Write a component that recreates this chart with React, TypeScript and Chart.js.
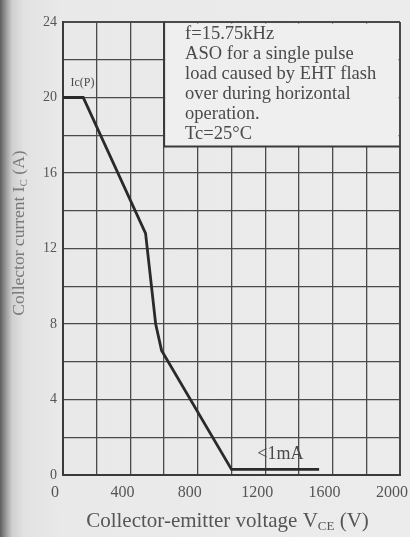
import React, { useEffect, useRef } from "react";
import { Chart, registerables } from "chart.js";

Chart.register(...registerables);

const voltage = [0, 120, 490, 550, 585, 1000, 1520];
const current = [20, 20, 12.8, 8, 6.6, 0.3, 0.3];

const xTickLabels = ["0", "400", "800", "1200", "1600", "2000"];
const yTickLabels = ["0", "4", "8", "12", "16", "20", "24"];

const noteLines = [
  "f=15.75kHz",
  "ASO for a single pulse",
  "load caused by EHT flash",
  "over during horizontal",
  "operation.",
  "Tc=25°C",
];

const noteBox = { v0: 600, v1: 2000, a0: 17.4, a1: 24 };
const icpLabel = { v: 15, a: 20.6, text: "Ic(P)" };
const leakLabel = { v: 1290, a: 1.1, text: "<1mA" };

const SERIF = "'Liberation Serif', 'DejaVu Serif', serif";
const INK = "#3a3a3a";
const PAPER = "#efefef";

function measureParts(ctx: any, parts: [string, boolean][], size: number) {
  let w = 0;
  parts.forEach(([t, sub]) => {
    ctx.font = `${sub ? Math.round(size * 0.6) : size}px ${SERIF}`;
    w += ctx.measureText(t).width;
  });
  return w;
}

export default function App() {
  const ref = useRef<HTMLCanvasElement | null>(null);

  useEffect(() => {
    if (!ref.current) return;

    const notePlugin = {
      id: "notes",
      beforeDatasetsDraw(chart: any) {
        const { ctx, scales } = chart;
        const x = scales.x;
        const y = scales.y;
        const bx0 = x.getPixelForValue(noteBox.v0);
        const bx1 = x.getPixelForValue(noteBox.v1);
        const by0 = y.getPixelForValue(noteBox.a1);
        const by1 = y.getPixelForValue(noteBox.a0);
        ctx.save();
        ctx.fillStyle = PAPER;
        ctx.fillRect(bx0 + 1, by0 + 1.5, bx1 - bx0 - 2.5, by1 - by0 - 1.5);
        ctx.strokeStyle = INK;
        ctx.lineWidth = 2;
        ctx.beginPath();
        ctx.moveTo(bx0, by0);
        ctx.lineTo(bx0, by1);
        ctx.lineTo(bx1, by1);
        ctx.stroke();
        ctx.fillStyle = "#4a4a4a";
        ctx.font = `18.5px ${SERIF}`;
        ctx.textBaseline = "middle";
        ctx.textAlign = "left";
        const tx = bx0 + 21;
        noteLines.forEach((line, i) => {
          ctx.fillText(line, tx, by0 + 12 + i * 20);
        });
        ctx.font = `12px ${SERIF}`;
        ctx.fillText(icpLabel.text, x.getPixelForValue(icpLabel.v) + 5, y.getPixelForValue(icpLabel.a) - 3);
        ctx.font = `18px ${SERIF}`;
        ctx.textAlign = "center";
        ctx.fillText(leakLabel.text, x.getPixelForValue(leakLabel.v), y.getPixelForValue(leakLabel.a));
        ctx.restore();
      },
      afterDraw(chart: any) {
        const { ctx, chartArea } = chart;
        ctx.save();
        ctx.textBaseline = "alphabetic";
        ctx.textAlign = "left";
        const xParts: [string, boolean][] = [
          ["Collector-emitter voltage V", false],
          ["CE", true],
          [" (V)", false],
        ];
        const xs = 21;
        const xw = measureParts(ctx, xParts, xs);
        let cx = (chartArea.left + chartArea.right) / 2 - xw / 2 - 4;
        const cy = 527;
        ctx.fillStyle = "#555";
        xParts.forEach(([t, sub]) => {
          ctx.font = `${sub ? Math.round(xs * 0.6) : xs}px ${SERIF}`;
          ctx.fillText(t, cx, sub ? cy + 3 : cy);
          cx += ctx.measureText(t).width;
        });
        const yParts: [string, boolean][] = [
          ["Collector current I", false],
          ["C", true],
          [" (A)", false],
        ];
        const ys = 17.5;
        const yw = measureParts(ctx, yParts, ys);
        ctx.translate(24, 233);
        ctx.rotate(-Math.PI / 2);
        ctx.fillStyle = "#7a7a7a";
        let px = -yw / 2;
        yParts.forEach(([t, sub]) => {
          ctx.font = `${sub ? Math.round(ys * 0.6) : ys}px ${SERIF}`;
          ctx.fillText(t, px, sub ? 3 : 0);
          px += ctx.measureText(t).width;
        });
        ctx.restore();
      },
    };

    const chart = new Chart(ref.current, {
      type: "line",
      data: {
        datasets: [
          {
            data: voltage.map((v, i) => ({ x: v, y: current[i] })),
            borderColor: "#2a2a2a",
            borderWidth: 2.8,
            pointRadius: 0,
            fill: false,
            tension: 0,
          },
        ],
      },
      options: {
        animation: false,
        responsive: false,
        devicePixelRatio: 1,
        layout: { padding: { top: 22, right: 10, left: 0, bottom: 0 } },
        plugins: { legend: { display: false }, tooltip: { enabled: false } },
        scales: {
          x: {
            type: "linear",
            min: 0,
            max: 2000,
            afterFit(s: any) {
              s.height = 62;
              s.paddingLeft = 0;
              s.paddingRight = 0;
            },
            grid: {
              color: "#4a4a4a",
              lineWidth: (c: any) => (c.tick && (c.tick.value === 2000 || c.tick.value === 0) ? 2 : 1.3),
              drawTicks: false,
            },
            border: { color: "#3a3a3a", width: 2 },
            ticks: {
              stepSize: 200,
              autoSkip: false,
              maxRotation: 0,
              padding: 8,
              labelOffset: -8,
              color: "#555",
              font: { family: SERIF, size: 16 },
              callback: (v: any) => {
                const s = String(v);
                return xTickLabels.includes(s) ? s : "";
              },
            },
          },
          y: {
            type: "linear",
            min: 0,
            max: 24,
            afterFit(s: any) {
              s.width = 63;
              s.paddingTop = 0;
              s.paddingBottom = 0;
            },
            grid: {
              color: "#4a4a4a",
              lineWidth: (c: any) => (c.tick && (c.tick.value === 24 || c.tick.value === 0) ? 2 : 1.3),
              drawTicks: false,
            },
            border: { color: "#3a3a3a", width: 2 },
            ticks: {
              stepSize: 2,
              autoSkip: false,
              padding: 6,
              color: "#555",
              font: { family: SERIF, size: 14 },
              callback: (v: any) => {
                const s = String(v);
                return yTickLabels.includes(s) ? s : "";
              },
            },
          },
        },
      },
      plugins: [notePlugin],
    });

    return () => chart.destroy();
  }, []);

  return (
    <div
      style={{
        position: "fixed",
        left: 0,
        top: 0,
        width: 410,
        height: 537,
        background:
          "linear-gradient(to right, #5e5e5e 0px, #9a9a9a 6px, #cfcfcf 12px, #e2e2e2 24px, #e9e9e9 60px, #ececec 100%)",
      }}
    >
      <canvas ref={ref} width={410} height={537} style={{ display: "block" }} />
    </div>
  );
}
